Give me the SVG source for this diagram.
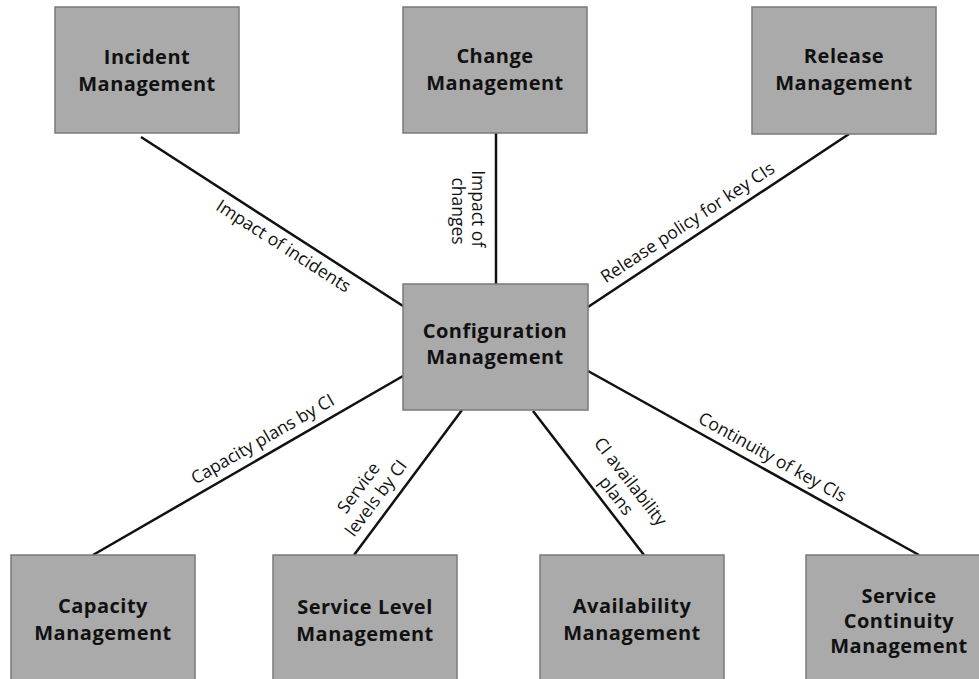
<svg xmlns="http://www.w3.org/2000/svg" width="979" height="679" viewBox="0 0 979 679">
  <style>
    .box { fill: #aaaaaa; stroke: #7a7a7a; stroke-width: 1.5; }
    .name { font-family: "Open Sans", "Liberation Sans", sans-serif; font-weight: bold; font-size: 20px; letter-spacing: 0.5px; fill: #111; text-anchor: middle; }
    .link { stroke: #111; stroke-width: 2.5; fill: none; }
    .lbl { font-family: "Open Sans", "Liberation Sans", sans-serif; font-size: 17.5px; fill: #111; text-anchor: middle; }
  </style>
  <rect width="979" height="679" fill="#ffffff"/>

  <!-- connectors from the central node to each process -->
  <g id="connectors">
    <line class="link" x1="141" y1="137" x2="403" y2="306"/>
    <line class="link" x1="496" y1="133" x2="496" y2="284"/>
    <line class="link" x1="849" y1="134" x2="588" y2="307"/>
    <line class="link" x1="403" y1="376" x2="93" y2="555"/>
    <line class="link" x1="462" y1="410" x2="354" y2="555"/>
    <line class="link" x1="533" y1="411" x2="644" y2="555"/>
    <line class="link" x1="588" y1="371" x2="919" y2="555"/>

    <text class="lbl" transform="translate(283.5,246) rotate(32.7)" y="6">Impact of incidents</text>
    <text class="lbl" transform="translate(468,211) rotate(90)">
      <tspan x="0" y="-4">Impact of</tspan>
      <tspan x="0" y="16">changes</tspan>
    </text>
    <text class="lbl" transform="translate(687.5,222.5) rotate(-33.4)" y="6">Release policy for key CIs</text>
    <text class="lbl" transform="translate(262.5,439) rotate(-30)" y="6">Capacity plans by CI</text>
    <text class="lbl" transform="translate(368,492) rotate(-53.3)">
      <tspan x="0" y="-4">Service</tspan>
      <tspan x="0" y="16">levels by CI</tspan>
    </text>
    <text class="lbl" transform="translate(624,489.5) rotate(52.2)">
      <tspan x="0" y="-4">CI availability</tspan>
      <tspan x="0" y="16">plans</tspan>
    </text>
    <text class="lbl" transform="translate(772.5,457) rotate(29.1)" y="6">Continuity of key CIs</text>
  </g>

  <g id="incident">
    <rect class="box" x="55" y="7" width="184" height="126"/>
    <text class="name" x="147" y="64">Incident</text>
    <text class="name" x="147" y="91">Management</text>
  </g>
  <g id="change">
    <rect class="box" x="403" y="7" width="184" height="126"/>
    <text class="name" x="495" y="63">Change</text>
    <text class="name" x="495" y="90">Management</text>
  </g>
  <g id="release">
    <rect class="box" x="752" y="7" width="184" height="127"/>
    <text class="name" x="844" y="63">Release</text>
    <text class="name" x="844" y="90">Management</text>
  </g>
  <g id="configuration">
    <rect class="box" x="403" y="284" width="185" height="126"/>
    <text class="name" x="495" y="338">Configuration</text>
    <text class="name" x="495" y="364">Management</text>
  </g>
  <g id="capacity">
    <rect class="box" x="11" y="555" width="184" height="140"/>
    <text class="name" x="103" y="613">Capacity</text>
    <text class="name" x="103" y="640">Management</text>
  </g>
  <g id="service-level">
    <rect class="box" x="273" y="555" width="184" height="140"/>
    <text class="name" x="365" y="614">Service Level</text>
    <text class="name" x="365" y="641">Management</text>
  </g>
  <g id="availability">
    <rect class="box" x="540" y="555" width="184" height="140"/>
    <text class="name" x="632" y="613">Availability</text>
    <text class="name" x="632" y="640">Management</text>
  </g>
  <g id="service-continuity">
    <rect class="box" x="806" y="555" width="184" height="140"/>
    <text class="name" x="899" y="603">Service</text>
    <text class="name" x="899" y="628">Continuity</text>
    <text class="name" x="899" y="653">Management</text>
  </g>
</svg>
